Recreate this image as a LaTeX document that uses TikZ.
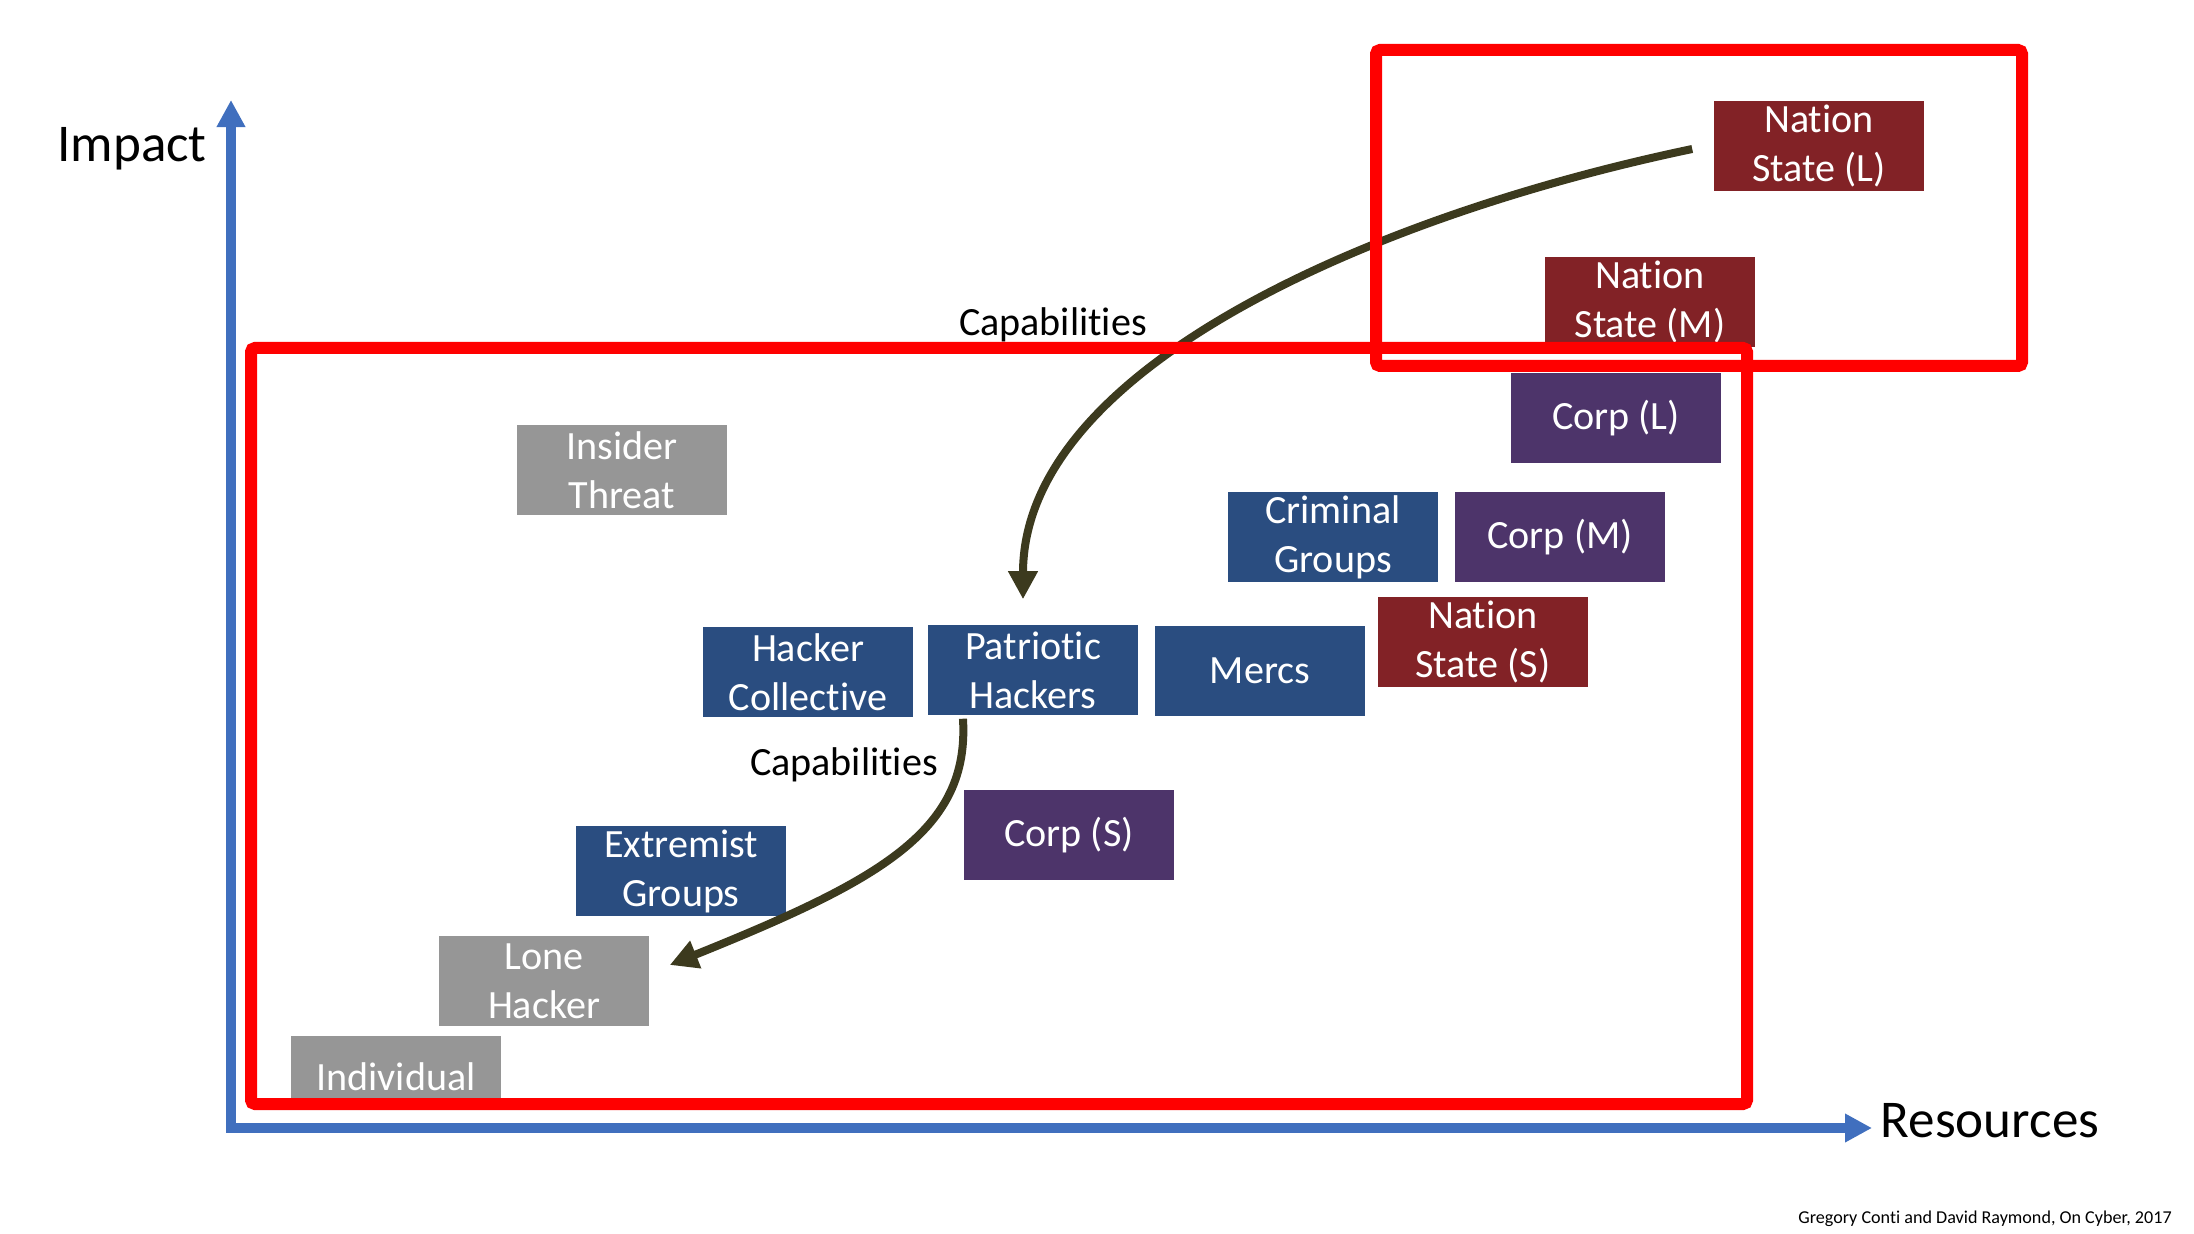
\documentclass[tikz,border=0pt]{standalone}
\usepackage{fontspec}
\setmainfont{Carlito}[Ligatures=NoCommon]
\usetikzlibrary{arrows.meta}

\definecolor{axisblue}{RGB}{64,111,190}
\definecolor{boxgray}{RGB}{150,150,150}
\definecolor{boxblue}{RGB}{42,77,128}
\definecolor{boxpurple}{RGB}{77,52,106}
\definecolor{boxred}{RGB}{130,34,38}
\definecolor{capline}{RGB}{60,58,30}

\tikzset{
    actor/.style={minimum width=2.1cm, minimum height=0.89cm, inner sep=0pt,
        text=white, align=center, font=\fontsize{11.4}{13.9}\selectfont},
    solobox/.style={actor, fill=boxgray},
    groupbox/.style={actor, fill=boxblue},
    corpbox/.style={actor, fill=boxpurple},
    statebox/.style={actor, fill=boxred},
    axislabel/.style={font=\fontsize{15.1}{18}\selectfont, anchor=base},
    caplabel/.style={font=\fontsize{11.4}{14}\selectfont, anchor=base},
    capflow/.style={draw=capline, line width=0.8mm,
        -{Triangle[length=2.8mm, width=2.8mm]}},
    frame/.style={draw=red, line width=1.2mm, rounded corners=0.4mm}
}

\begin{document}
\begin{tikzpicture}[x=0.01cm, y=-0.01cm]
        \useasboundingbox (0,0) rectangle (2194,1234);

        \coordinate (origin) at (231,1128);
        \coordinate (ytop) at (231,100);
        \coordinate (xend) at (1872,1128);

        \draw[axisblue, line width=1mm,
            {Triangle[length=2.7mm, width=2.7mm]}-{Triangle[length=2.7mm, width=2.7mm]}]
            (ytop) -- (origin) -- (xend);
        \node[axislabel] (impact) at (132,162) {Impact};
        \node[axislabel] (resources) at (1990,1137) {Resources};

        \node[statebox] (nsl) at (1819,146) {Nation\\State (L)};
        \node[statebox] (nsm) at (1650,302) {Nation\\State (M)};
        \node[corpbox] (corpl) at (1616,418) {Corp (L)};
        \node[groupbox] (criminal) at (1333,537) {Criminal\\Groups};
        \node[corpbox] (corpm) at (1560,537) {Corp (M)};
        \node[statebox] (nss) at (1483,642) {Nation\\State (S)};
        \node[groupbox] (mercs) at (1260,671) {Mercs};
        \node[groupbox] (patriot) at (1033,670) {Patriotic\\Hackers};
        \node[groupbox] (collective) at (808,672) {Hacker\\Collective};
        \node[corpbox] (corps) at (1069,835) {Corp (S)};
        \node[solobox] (insider) at (622,470) {Insider\\Threat};
        \node[groupbox] (extremist) at (681,871) {Extremist\\Groups};
        \node[solobox] (lone) at (544,981) {Lone\\Hacker};
        \node[solobox, minimum height=0.64cm, text height=4.4mm, text depth=0pt]
            (individual) at (396,1068) {Individual};

        \node[caplabel] (capupper) at (1053,336) {Capabilities};
        \node[caplabel] (caplower) at (844,775) {Capabilities};

        \draw[capflow] ([xshift=-2.1mm, yshift=-0.3mm]nsl.west)
            .. controls +(-320,67) and +(0,-231) .. ([xshift=-1mm, yshift=2.55mm]patriot.north);
        \draw[capflow] ([xshift=-7mm, yshift=-0.35mm]patriot.south)
            .. controls +(7,112) and +(211,-85) .. ([xshift=2mm, yshift=1.6mm]lone.east);

        \draw[frame] (1376,50) rectangle (2022,366);
        \draw[frame] (251,348) rectangle (1747,1104);

        \node[font=\fontsize{5.15}{6}\selectfont, anchor=base] (credit) at (1985,1223)
            {Gregory Conti and David Raymond, On Cyber, 2017};
    \end{tikzpicture}
\end{document}
